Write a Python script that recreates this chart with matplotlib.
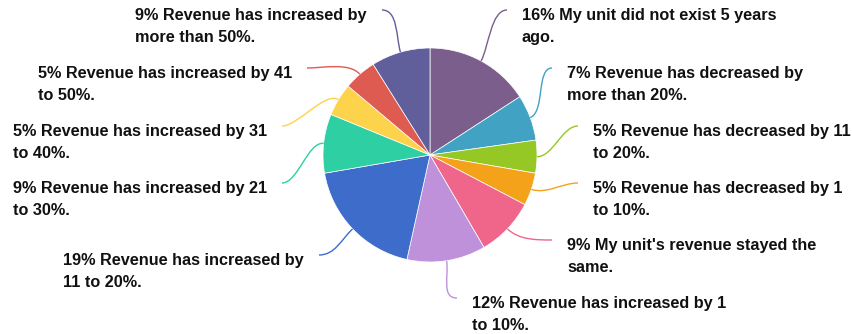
import matplotlib.pyplot as plt
from matplotlib.path import Path
from matplotlib.patches import PathPatch
import numpy as np

W, H = 853, 334

# Share of units by change in revenue over the last 5 years (%)
labels = [
    "My unit did not exist 5 years\nago.",
    "Revenue has decreased by\nmore than 20%.",
    "Revenue has decreased by 11\nto 20%.",
    "Revenue has decreased by 1\nto 10%.",
    "My unit's revenue stayed the\nsame.",
    "Revenue has increased by 1\nto 10%.",
    "Revenue has increased by\n11 to 20%.",
    "Revenue has increased by 21\nto 30%.",
    "Revenue has increased by 31\nto 40%.",
    "Revenue has increased by 41\nto 50%.",
    "Revenue has increased by\nmore than 50%.",
]
values = [16, 7, 5, 5, 9, 12, 19, 9, 5, 5, 9]
colors = ["#7b5e8c", "#41a2c3", "#95c824", "#f5a21b", "#f0668a", "#bf91da",
          "#3e6ccb", "#2ecfa2", "#fcd34a", "#dd5b51", "#615f9b"]

# where each leader line ends (pixels from top-left)
label_ends = [(507, 10), (552, 68), (578, 126), (578, 183), (552, 240), (457, 298),
              (319, 255), (282, 183), (282, 126), (307, 68), (382, 10)]

cx, cy, r = 430, H - 155, 107

fig = plt.figure(figsize=(W / 100, H / 100), dpi=100)
ax = fig.add_axes([0, 0, 1, 1])

wedges, _ = ax.pie(values, colors=colors, startangle=90, counterclock=False,
                   center=(cx, cy), radius=r,
                   wedgeprops=dict(edgecolor="white", linewidth=0.5))
ax.set_xlim(0, W)
ax.set_ylim(0, H)
ax.set_aspect("auto")
ax.axis("off")

for w, lab, val, (ex, ey) in zip(wedges, labels, values, label_ends):
    mid = np.deg2rad((w.theta1 + w.theta2) / 2)
    ey = H - ey
    side = 1 if ex > cx else -1
    p0 = (cx + r * np.cos(mid), cy + r * np.sin(mid))
    p1 = (cx + (r + 16) * np.cos(mid), cy + (r + 16) * np.sin(mid))
    p2 = (ex - side * 16, ey)
    path = Path([p0, p1, p2, (ex, ey)],
                [Path.MOVETO, Path.CURVE4, Path.CURVE4, Path.CURVE4])
    ax.add_patch(PathPatch(path, fill=False, edgecolor=w.get_facecolor(), lw=1))
    ax.text(ex + side * 15, ey + 2, f"{val}% {lab}",
            ha="left" if side > 0 else "right", va="top", multialignment="left",
            fontsize=11.7, fontweight="bold", family="Liberation Sans",
            color="#111111", linespacing=1.55)

fig.savefig("out.png", dpi=100)
